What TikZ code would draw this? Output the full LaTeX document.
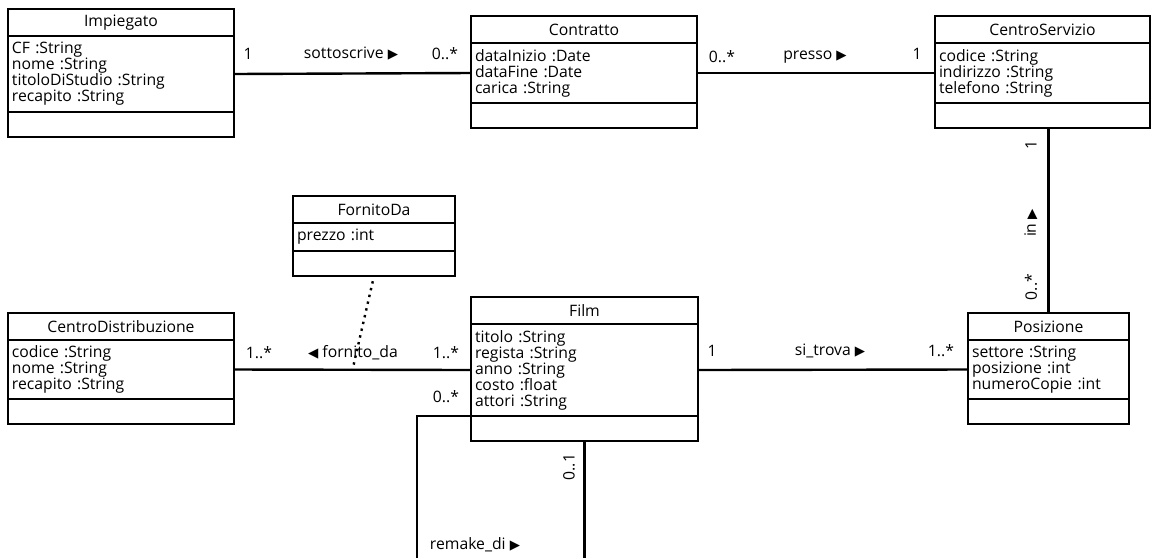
\documentclass[tikz,border=0pt]{standalone}
\usepackage{fontspec}
\setmainfont{Open Sans}
\newfontfamily\symfont{DejaVu Sans}
\usetikzlibrary{positioning}
% class box: name, position, width (px), title, attributes, attribute height (px)
\newcommand{\umlclass}[6]{%
  \pgfmathsetlengthmacro\clsw{#3*0.75pt}%
  \pgfmathsetlengthmacro\clstw{#3*0.75pt-6pt}%
  \node[clsH,minimum width=\clsw,anchor=north west] (#1) at #2 {#4};
  \node[clsA,text width=\clstw,minimum height=#6*0.75pt,below=0pt of #1] (#1A) {#5};
  \node[clsO,minimum width=\clsw,below=0pt of #1A] (#1O) {};
}
\newcommand{\tri}[1]{{\symfont\fontsize{10}{10}\selectfont #1}}
\begin{document}
\begin{tikzpicture}[x=0.75pt,y=-0.75pt,every node/.style={font=\fontsize{11.8}{12}\selectfont},clsH/.style={draw,line width=1.2pt,outer sep=0pt,minimum height=20.25pt,inner sep=0pt},clsA/.style={draw,line width=1.2pt,outer sep=0pt,align=left,inner xsep=3pt,inner ysep=0pt},clsO/.style={draw,line width=1.2pt,outer sep=0pt,minimum height=18.75pt,inner sep=0pt},assoc/.style={line width=1.8pt},dotline/.style={line width=1.8pt,dash pattern=on 1.8pt off 3.4pt,shorten <=4pt},lbl/.style={inner sep=0pt}]
\useasboundingbox (0,0) rectangle (1155,558);

\umlclass{imp}{(8,9)}{226}{Impiegato}{CF :String\\nome :String\\titoloDiStudio :String\\recapito :String}{76}
\umlclass{con}{(471,16)}{226}{Contratto}{dataInizio :Date\\dataFine :Date\\carica :String}{60}
\umlclass{cs}{(935,16)}{215}{CentroServizio}{codice :String\\indirizzo :String\\telefono :String}{60}
\umlclass{fd}{(293,196)}{162}{FornitoDa}{prezzo :int}{28}
\umlclass{cd}{(8,313)}{226}{CentroDistribuzione}{codice :String\\nome :String\\recapito :String}{59}
\umlclass{film}{(471,297)}{227}{Film}{titolo :String\\regista :String\\anno :String\\costo :float\\attori :String}{92}
\umlclass{pos}{(968,313)}{161}{Posizione}{settore :String\\posizione :int\\numeroCopie :int}{59}

% associations
\draw[assoc] (impA.east) -- (conA.west);
\node[lbl] (l1) at (248,54) {1};
\node[lbl] (l2) at (351,54) {sottoscrive \tri{▶}};
\node[lbl] (l3) at (445,54) {0..*};

\draw[assoc] (conA.east) -- (csA.west);
\node[lbl] (l4) at (722,57) {0..*};
\node[lbl] (l5) at (815,57) {presso \tri{▶}};
\node[lbl] (l6) at (917,54) {1};

\draw[assoc] (pos.north) -- (pos.north |- csO.south);
\node[lbl,rotate=90] (l7) at (1031,145) {1};
\node[lbl,rotate=90] (l8) at (1031,223) {in \tri{▶}};
\node[lbl,rotate=90] (l9) at (1031,287) {0..*};

\draw[assoc] (cdA.east) -- coordinate[pos=0.5] (fdMid) (filmA.west);
\draw[dotline] (fdO.south) -- (fdMid);
\node[lbl] (l10) at (259,353) {1..*};
\node[lbl] (l11) at (353,353) {\tri{◀} fornito\_da};
\node[lbl] (l12) at (446,353) {1..*};

\draw[assoc] (filmA.east) -- (posA.west);
\node[lbl] (l13) at (712,351) {1};
\node[lbl] (l14) at (830,351) {si\_trova \tri{▶}};
\node[lbl] (l15) at (941,351) {1..*};

% remake_di (cut off at the bottom)
\coordinate (rmL) at (417,558);
\coordinate (rmR) at (584,558);
\draw[assoc] (filmA.south west) -| (rmL);
\draw[assoc] (filmO.south) -- (filmO.south |- rmR);
\node[lbl] (l16) at (446,397) {0..*};
\node[lbl,rotate=90] (l17) at (569,467) {0..1};
\node[lbl] (l18) at (475,545) {remake\_di \tri{▶}};
\end{tikzpicture}
\end{document}
